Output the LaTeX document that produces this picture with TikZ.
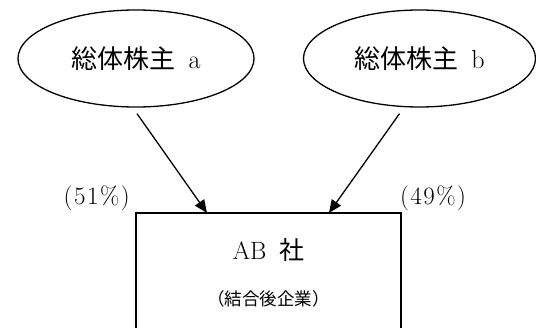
\documentclass[tikz,border=0pt]{standalone}
\usepackage{fontspec}
\newfontfamily\cjk{Noto Sans CJK JP}
\newfontfamily\pctfont[LetterSpace=6]{Latin Modern Roman}
\usetikzlibrary{shapes.geometric,arrows.meta,calc}
\begin{document}
\begin{tikzpicture}[x=1pt,y=-1pt,
  owner/.style={ellipse, draw, line width=1.3pt, inner sep=0pt, font=\fontsize{26}{30}\selectfont},
  company/.style={draw, line width=1.4pt, inner sep=0pt, outer sep=0pt},
  arr/.style={line width=1.3pt, -{Triangle[length=13pt,width=11pt]}},
  big/.style={font=\fontsize{25}{30}\selectfont, inner sep=0pt},
  pct/.style={font=\pctfont\fontsize{25}{30}\selectfont, inner sep=0pt},
  small/.style={font=\fontsize{17.5}{20}\selectfont, inner sep=0pt}]
\useasboundingbox (0,0) rectangle (536,327);
\clip (0,0) rectangle (536,327);
\node[owner, minimum width=236pt, minimum height=97pt] (a) at (136,58.5) {{\cjk 総体株主}\hspace{0.5em}a};
\node[owner, minimum width=232pt, minimum height=97pt] (b) at (419.5,58.5) {{\cjk 総体株主}\hspace{0.5em}b};
\node[company, minimum width=265pt, minimum height=160pt, anchor=north] (ab) at (268.5,213) {};
\node[big] (abname) at (268.5,250) {AB\hspace{0.5em}{\cjk 社}};
\node[small] (absub) at (268.5,299) {\cjk （結合後企業）};
\node[pct] (pa) at (96.7,198) {(51\%)};
\node[pct] (pb) at (433,198) {(49\%)};
\draw[arr] ([xshift=1pt,yshift=-6pt]a.south) -- ($(ab.north west)!0.268!(ab.north east)$);
\draw[arr] ([xshift=-20pt,yshift=-6pt]b.south) -- ($(ab.north west)!0.728!(ab.north east)$);
\end{tikzpicture}
\end{document}
